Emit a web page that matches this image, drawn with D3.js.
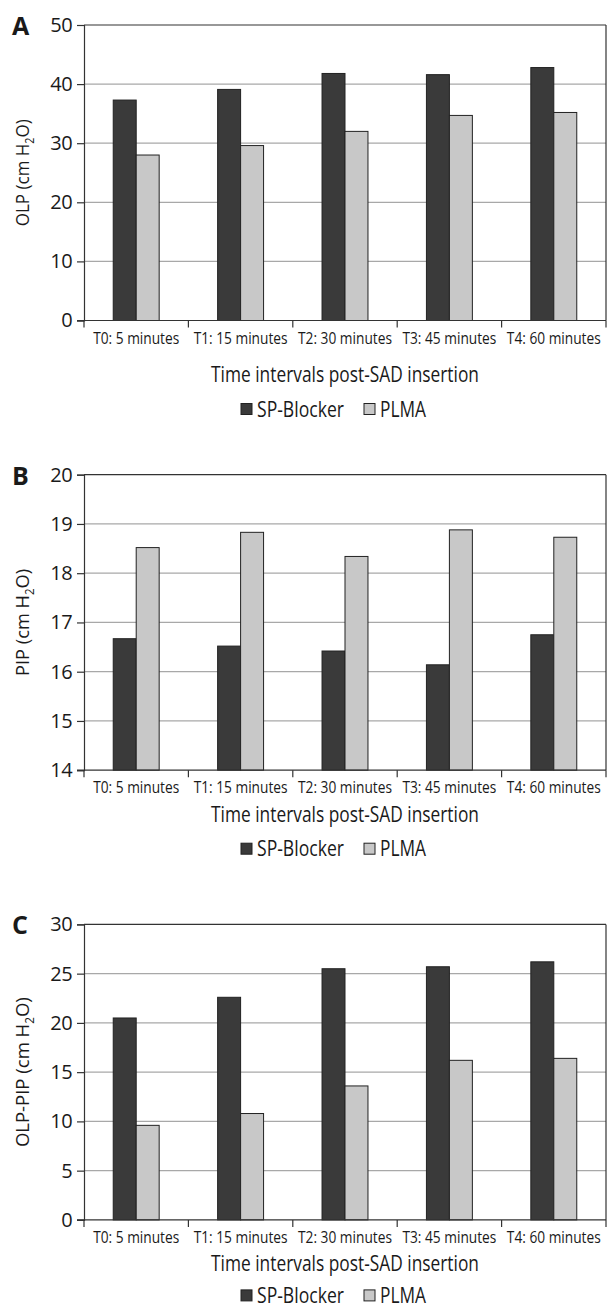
<!DOCTYPE html>
<html>
<head>
<meta charset="utf-8">
<script src="https://cdn.jsdelivr.net/npm/d3@7"></script>
<style>
  html, body { margin: 0; padding: 0; background: #fff; }
  svg { display: block; }
  text { font-family: "Open Sans", "Noto Sans", sans-serif; fill: #1a1a1a; }
  .letter { font-family: "Open Sans", "Liberation Sans", sans-serif; font-weight: bold; }
</style>
</head>
<body>
<svg id="chart" width="608" height="1310"></svg>
<script>
// ---- data ----
const categories = ["T0: 5 minutes", "T1: 15 minutes", "T2: 30 minutes", "T3: 45 minutes", "T4: 60 minutes"];
const seriesNames = ["SP-Blocker", "PLMA"];

const olpSP   = [37.3, 39.1, 41.8, 41.6, 42.8];
const olpPLMA = [28.0, 29.6, 32.0, 34.7, 35.2];

const pipSP   = [16.67, 16.52, 16.42, 16.14, 16.75];
const pipPLMA = [18.52, 18.83, 18.34, 18.88, 18.73];

const diffSP   = [20.5, 22.6, 25.5, 25.7, 26.2];
const diffPLMA = [9.6, 10.8, 13.6, 16.2, 16.4];

const olpTicks  = [0, 10, 20, 30, 40, 50];
const pipTicks  = [14, 15, 16, 17, 18, 19, 20];
const diffTicks = [0, 5, 10, 15, 20, 25, 30];

const xTitle = "Time intervals post-SAD insertion";

const panels = [
  { letter: "A", yLabel: "OLP (cm H", sp: olpSP,  plma: olpPLMA,  ticks: olpTicks },
  { letter: "B", yLabel: "PIP (cm H", sp: pipSP,  plma: pipPLMA,  ticks: pipTicks },
  { letter: "C", yLabel: "OLP-PIP (cm H", sp: diffSP, plma: diffPLMA, ticks: diffTicks }
];

// ---- helpers ----
// place a horizontally condensed text (reference uses a condensed face)
function condensedText(parent, x, y, str, size, anchor, targetW, factorOverride) {
  const gg = parent.append("g");
  const t = gg.append("text").attr("x", 0).attr("y", 0)
    .attr("text-anchor", anchor).attr("font-size", size).text(str);
  const w = t.node().getComputedTextLength();
  const f = factorOverride != null ? factorOverride : Math.min(1, targetW / w);
  gg.attr("transform", `translate(${x},${y}) scale(${f},1)`);
  return { g: gg, factor: f, width: w };
}

// ---- layout ----
const svg = d3.select("#chart");
const left = 84, right = 606;
const panelTop0 = 25, panelStep = 449.7, plotH = 295.5;
const colors = { "SP-Blocker": "#3a3a3a", "PLMA": "#c8c8c8" };
// offsets below the x axis for title / legend baselines (panel A sits a bit lower)
const titleOff  = [61, 52, 51];
const legendOff = [96, 86, 83];

const x0 = d3.scaleBand().domain(categories).range([left, right]).padding(0);
const bw = x0.bandwidth();
const x1 = d3.scaleBand().domain(seriesNames).range([bw * 0.28, bw * 0.72]).padding(0);

panels.forEach((p, i) => {
  const top = panelTop0 + panelStep * i;
  const bottom = top + plotH;
  const y = d3.scaleLinear()
    .domain([p.ticks[0], p.ticks[p.ticks.length - 1]])
    .range([bottom, top]);

  const g = svg.append("g");

  // gridlines (interior)
  g.selectAll(".grid").data(p.ticks.slice(1, -1)).join("line")
    .attr("x1", left).attr("x2", right)
    .attr("y1", d => y(d)).attr("y2", d => y(d))
    .attr("stroke", "#a8a8a8").attr("stroke-width", 1.3);

  // frame top + right
  g.append("line").attr("x1", left).attr("x2", right)
    .attr("y1", y(p.ticks[p.ticks.length - 1])).attr("y2", y(p.ticks[p.ticks.length - 1]))
    .attr("stroke", "#333").attr("stroke-width", 1.2);
  g.append("line").attr("x1", right).attr("x2", right)
    .attr("y1", top).attr("y2", bottom)
    .attr("stroke", "#333").attr("stroke-width", 1.2);

  // bars
  const rows = categories.map((c, k) => ({ cat: c, vals: [
    { s: "SP-Blocker", v: p.sp[k] }, { s: "PLMA", v: p.plma[k] } ] }));
  const groups = g.selectAll(".grp").data(rows).join("g")
    .attr("transform", d => `translate(${x0(d.cat)},0)`);
  groups.selectAll("rect").data(d => d.vals).join("rect")
    .attr("x", d => x1(d.s))
    .attr("width", x1.bandwidth())
    .attr("y", d => y(d.v))
    .attr("height", d => y(p.ticks[0]) - y(d.v))
    .attr("fill", d => colors[d.s])
    .attr("stroke", "#222").attr("stroke-width", 1);

  // y axis
  const yAxis = d3.axisLeft(y).tickValues(p.ticks).tickSize(7).tickPadding(5).tickFormat(d3.format("d"));
  const ya = g.append("g").attr("transform", `translate(${left},0)`).call(yAxis);
  ya.select(".domain").attr("stroke", "#333").attr("stroke-width", 1.2);
  ya.selectAll(".tick line").attr("stroke", "#333").attr("stroke-width", 1.2);
  ya.selectAll(".tick text").attr("font-size", 20).attr("fill", "#1a1a1a")
    .attr("font-family", "Open Sans, Noto Sans, sans-serif")
    .attr("letter-spacing", -0.6);

  // x axis: ticks at band boundaries
  const xa = g.append("g").attr("transform", `translate(0,${bottom})`);
  xa.append("line").attr("x1", left - 7).attr("x2", right).attr("y1", 0).attr("y2", 0)
    .attr("stroke", "#333").attr("stroke-width", 1.2);
  const bounds = categories.map(c => x0(c)).concat([right]);
  xa.selectAll(".bt").data(bounds).join("line")
    .attr("x1", d => d).attr("x2", d => d).attr("y1", 0).attr("y2", 7)
    .attr("stroke", "#333").attr("stroke-width", 1.2);
  // common condensing factor: "T1: 15 minutes" spans ~94px
  const probe = xa.append("text").attr("font-size", 15.5).text(categories[1]);
  const xf = Math.min(1, 94 / probe.node().getComputedTextLength());
  probe.remove();
  categories.forEach(c => {
    condensedText(xa, x0(c) + bw / 2, 23, c, 15.5, "middle", null, xf);
  });

  // x title
  condensedText(g, (left + right) / 2, bottom + titleOff[i], xTitle, 21, "middle", 268);

  // y title with subscript
  const ytg = g.append("g");
  const yt = ytg.append("text")
    .attr("text-anchor", "middle").attr("font-size", 19);
  yt.append("tspan").text(p.yLabel);
  yt.append("tspan").attr("font-size", 12).attr("dy", 5).text("2");
  yt.append("tspan").attr("dy", -5).text("O)");
  const ytW = yt.node().getBBox().width;
  const ytTarget = i === 2 ? 150 : 107;
  ytg.attr("transform", `translate(29,${(top + bottom) / 2}) rotate(-90) scale(${ytTarget / ytW},1)`);

  // panel letter
  g.append("text").attr("class", "letter").attr("x", 12).attr("y", top + 10)
    .attr("font-size", 25).text(p.letter);

  // legend
  const lg = g.append("g").attr("transform", `translate(0,${bottom + legendOff[i]})`);
  const legendItems = [{ s: "SP-Blocker", x: 241, w: 87 }, { s: "PLMA", x: 364, w: 46 }];
  legendItems.forEach(it => {
    lg.append("rect").attr("x", it.x).attr("y", -13).attr("width", 11).attr("height", 11)
      .attr("fill", colors[it.s]).attr("stroke", "#222").attr("stroke-width", 1);
    condensedText(lg, it.x + 16, 0, it.s, 21, "start", it.w);
  });
});
</script>
</body>
</html>
